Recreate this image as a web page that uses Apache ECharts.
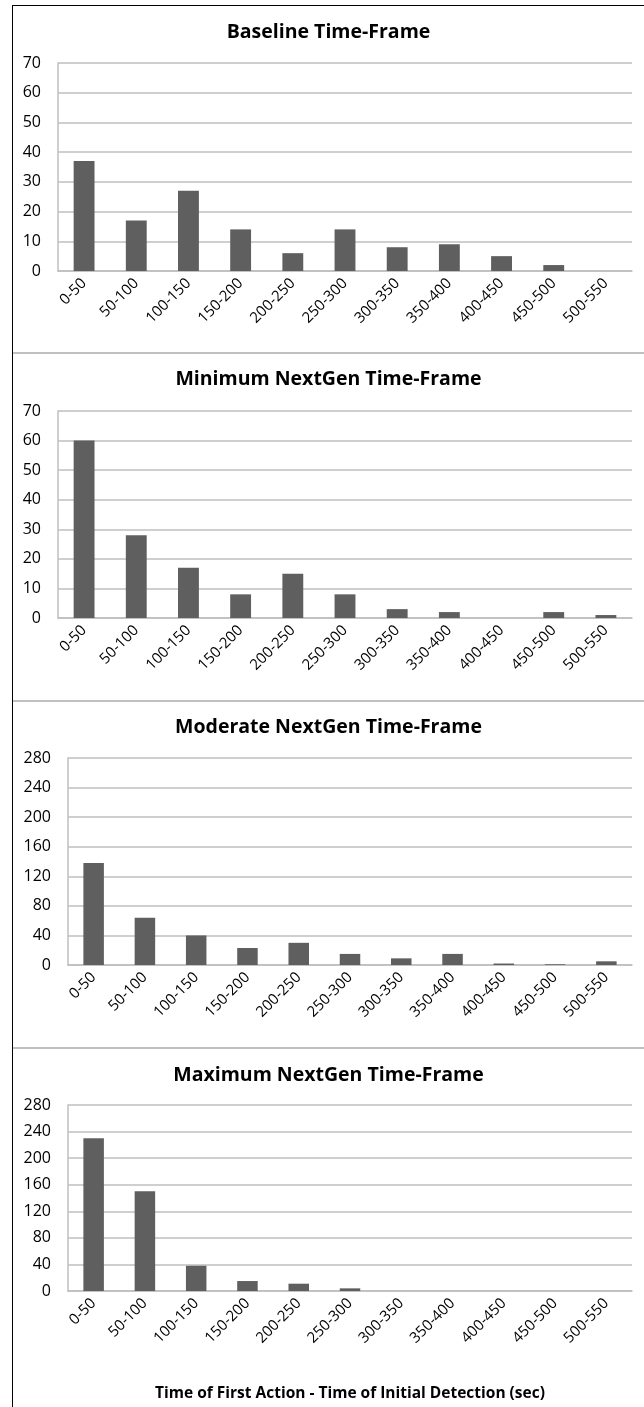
<!DOCTYPE html>
<html lang="en">
<head>
<meta charset="UTF-8">
<title>Time-Frame histograms</title>
<style>
    * {
        margin: 0;
        padding: 0;
    }
    body {
        background: #fff;
        width: 644px;
        height: 1407px;
        overflow: hidden;
    }
    .wrap {
        position: absolute;
        left: 12px;
        top: 5px;
        width: 631px;
        height: 1402px;
        border-left: 1px solid #000;
        border-top: 1px solid #000;
    }
    .panel {
        width: 631px;
        border-bottom: 2px solid #c0c0c0;
    }
    .last {
        border-bottom: none;
    }
</style>
<script src="https://cdn.jsdelivr.net/npm/echarts@6/dist/echarts.min.js"></script>
</head>
<body>
<div class="wrap">
    <div id="c0" class="panel" style="height:346px"></div>
    <div id="c1" class="panel" style="height:346px"></div>
    <div id="c2" class="panel" style="height:345px"></div>
    <div id="c3" class="panel last" style="height:358px"></div>
</div>

<script>
// bins (sec)
var bins = ['0-50', '50-100', '100-150', '150-200', '200-250', '250-300',
    '300-350', '350-400', '400-450', '450-500', '500-550'];

var titles = ['Baseline Time-Frame', 'Minimum NextGen Time-Frame',
    'Moderate NextGen Time-Frame', 'Maximum NextGen Time-Frame'];

// counts per bin
var baseline = [37, 17, 27, 14, 6, 14, 8, 9, 5, 2, 0];
var minimum = [60, 28, 17, 8, 15, 8, 3, 2, 0, 2, 1];
var moderate = [138, 64, 40, 23, 30, 15, 9, 15, 2, 1, 5];
var maximum = [230, 150, 38, 15, 11, 4, 0, 0, 0, 0, 0];

// y axis ranges
var yMax = [70, 70, 280, 280];
var yStep = [10, 10, 40, 40];

var xName = 'Time of First Action - Time of Initial Detection (sec)';

var font = 'Open Sans';
var gridColor = '#bfbfbf';

// per panel layout: grid top / height / left, title top
var layout = [
    {top: 57, height: 208, left: 45, title: 11},
    {top: 57, height: 207, left: 45, title: 10},
    {top: 56, height: 207, left: 55, title: 10},
    {top: 56, height: 190, left: 55, title: 11}
];

window.onload = function () {
    var all = [baseline, minimum, moderate, maximum];
    for (var i = 0; i < 4; i++) {
        createBar(i, all[i]);
    }
}

function createBar(i, values) {
    var chart = echarts.init(document.getElementById('c' + i));
    var l = layout[i];
    var option = {
        animation: false,
        title: {
            text: titles[i],
            left: 'center',
            top: l.title,
            textStyle: {
                fontFamily: font,
                fontWeight: 'bold',
                fontSize: 19.5,
                color: '#000'
            }
        },
        grid: {
            left: l.left,
            right: 12,
            top: l.top,
            height: l.height,
            containLabel: false
        },
        xAxis: {
            type: 'category',
            data: bins,
            name: i === 3 ? xName : '',
            nameLocation: 'middle',
            nameGap: 95,
            nameTextStyle: {
                fontFamily: font,
                fontWeight: 'bold',
                fontSize: 15.5,
                color: '#000'
            },
            axisLine: {
                lineStyle: {color: gridColor, width: 1.5}
            },
            axisTick: {show: false},
            axisLabel: {
                interval: 0,
                rotate: 45,
                margin: 10,
                fontFamily: font,
                fontSize: 15,
                color: '#000'
            }
        },
        yAxis: {
            type: 'value',
            min: 0,
            max: yMax[i],
            interval: yStep[i],
            axisLine: {
                show: true,
                lineStyle: {color: gridColor, width: 1.5}
            },
            axisTick: {show: false},
            axisLabel: {
                margin: 17,
                fontFamily: font,
                fontSize: 16,
                color: '#000'
            },
            splitLine: {
                lineStyle: {color: gridColor, width: 1.5}
            }
        },
        series: [{
            type: 'bar',
            data: values,
            barCategoryGap: '60%',
            itemStyle: {
                color: '#5f5f5f'
            }
        }]
    };
    chart.setOption(option);
}
</script>
</body>
</html>
